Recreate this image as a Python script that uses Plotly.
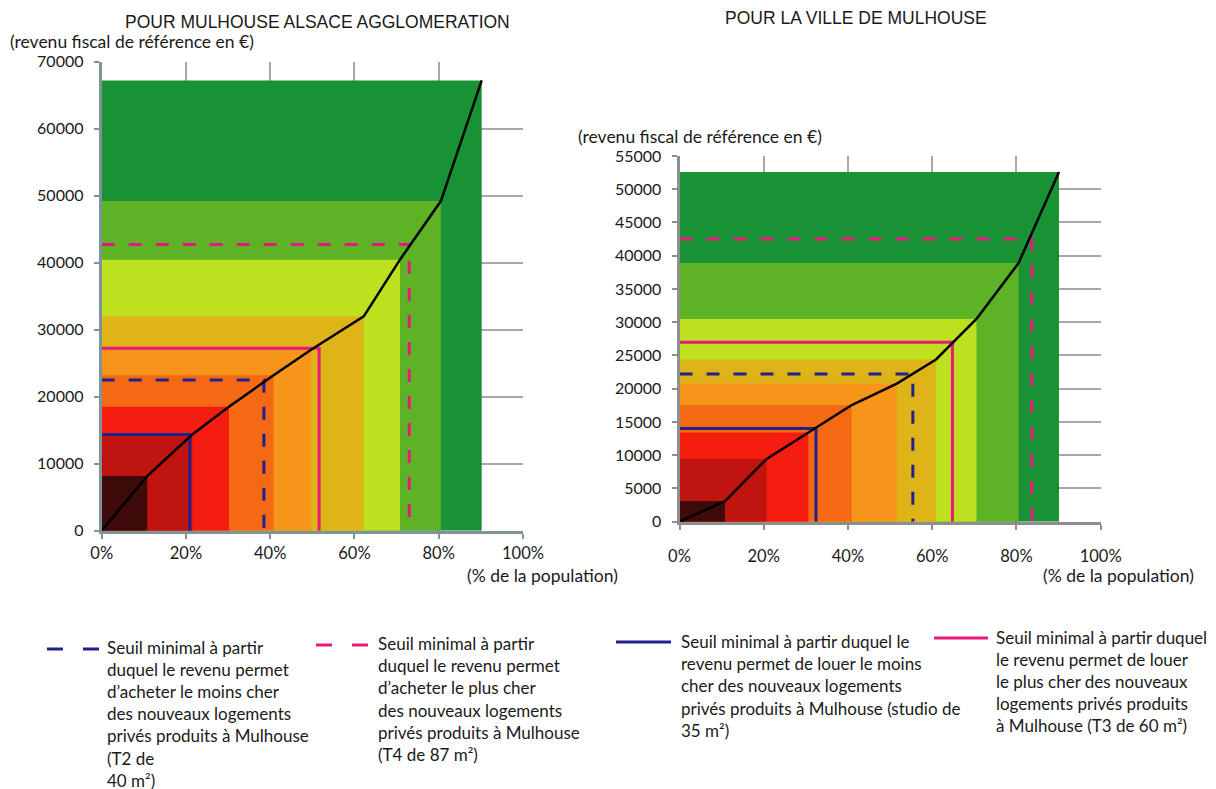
import plotly.graph_objects as go

W, H = 1216, 789
OFF = 8  # la page html décale la figure de 8 px (marge du body)

# déciles de revenu : % de la population / revenu fiscal de référence (€)
pct_agglo = [10.8, 21.5, 30.2, 40.8, 49.7, 62.2, 70.8, 80.5, 90.2]
rev_agglo = [8150, 14350, 18500, 23200, 27000, 32000, 40450, 49200, 67200]
pct_ville = [10.8, 20.7, 30.6, 40.9, 51.6, 60.9, 70.5, 80.5, 90.1]
rev_ville = [3100, 9450, 13400, 17550, 20770, 24400, 30500, 38900, 52600]

# seuils : achat min, achat max, location min, location max
seuil_pct_agglo = [38.5, 73.0, 20.9, 51.6]
seuil_rev_agglo = [22500, 42700, 14350, 27250]
seuil_pct_ville = [55.4, 83.6, 32.4, 64.8]
seuil_rev_ville = [22200, 42500, 14000, 27000]

band_colors = ["#3e0a0a", "#c0150f", "#f51c10", "#f46a14", "#f7941a",
               "#dfb418", "#bde01f", "#5db226", "#189234"]
NAVY = "#22208c"
PINK = "#e8187e"
seuil_colors = [NAVY, PINK, NAVY, PINK]
seuil_dash = ["13px,14px", "13px,14px", "solid", "solid"]

titles = ["POUR MULHOUSE ALSACE AGGLOMERATION", "POUR LA VILLE DE MULHOUSE"]

legend_texts = [
    ["Seuil minimal à partir", "duquel le revenu permet", "d’acheter le moins cher",
     "des nouveaux logements", "privés produits à Mulhouse", "(T2 de", "40 m²)"],
    ["Seuil minimal à partir", "duquel le revenu permet", "d’acheter le plus cher",
     "des nouveaux logements", "privés produits à Mulhouse", "(T4 de 87 m²)"],
    ["Seuil minimal à partir duquel le", "revenu permet de louer le moins",
     "cher des nouveaux logements", "privés produits à Mulhouse (studio de", "35 m²)"],
    ["Seuil minimal à partir duquel", "le revenu permet de louer",
     "le plus cher des nouveaux", "logements privés produits", "à Mulhouse (T3 de 60 m²)"],
]

FONT = "Lato, 'Open Sans', sans-serif"
TXT = "#1a1a1a"


def px_x(p):
    return (p - OFF) / W


def px_y(p):
    return 1 - (p - OFF) / H


fig = go.Figure()


def add_panel(pcts, revs, s_pct, s_rev, xa, ya):
    # bandes colorées imbriquées, de la plus grande à la plus petite
    for i in reversed(range(len(pcts))):
        fig.add_trace(go.Scatter(
            x=[0, pcts[i], pcts[i], 0, 0], y=[0, 0, revs[i], revs[i], 0],
            mode="lines", fill="toself", fillcolor=band_colors[i],
            line=dict(width=0), hoverinfo="skip", showlegend=False,
            xaxis=xa, yaxis=ya))
    for k in range(len(s_pct)):
        fig.add_trace(go.Scatter(
            x=[0, s_pct[k], s_pct[k]], y=[s_rev[k], s_rev[k], 0],
            mode="lines", line=dict(color=seuil_colors[k], width=3, dash=seuil_dash[k]),
            hoverinfo="skip", showlegend=False, xaxis=xa, yaxis=ya))
    fig.add_trace(go.Scatter(
        x=[0] + pcts, y=[0] + revs, mode="lines",
        line=dict(color="black", width=2.5), showlegend=False,
        xaxis=xa, yaxis=ya))


add_panel(pct_agglo, rev_agglo, seuil_pct_agglo, seuil_rev_agglo, "x", "y")
add_panel(pct_ville, rev_ville, seuil_pct_ville, seuil_rev_ville, "x2", "y2")

xcommon = dict(range=[0, 100], dtick=20, ticksuffix="%", showgrid=True,
               gridcolor="#a8a8a8", gridwidth=2, zeroline=False, showline=True,
               linewidth=3, ticks="outside", ticklen=5, tickwidth=2, automargin=False,
               tickfont=dict(family=FONT, size=16.5, color=TXT))
ycommon = dict(showgrid=True, gridcolor="#a8a8a8", gridwidth=2, zeroline=False,
               showline=True, linewidth=3, ticks="outside", ticklen=5, tickwidth=2,
               tickformat="d", automargin=False, ticklabelstandoff=7,
               tickfont=dict(family=FONT, size=16, color=TXT))

fig.update_layout(
    width=W, height=H, margin=dict(l=0, r=0, t=0, b=0, autoexpand=False),
    paper_bgcolor="white", plot_bgcolor="white", showlegend=False,
    xaxis=dict(xcommon, domain=[px_x(101.7), px_x(523)], anchor="y",
               linecolor="#7f939b", tickcolor="#7f939b", ticklabelstandoff=0),
    yaxis=dict(ycommon, domain=[px_y(530.7), px_y(61.7)], anchor="x",
               range=[0, 70000], dtick=10000, linecolor="#7f939b", tickcolor="#7f939b"),
    xaxis2=dict(xcommon, domain=[px_x(679.5), px_x(1100.7)], anchor="y2",
                linecolor="#8e8e8e", tickcolor="#8e8e8e", ticklabelstandoff=12),
    yaxis2=dict(ycommon, domain=[px_y(521.7), px_y(156)], anchor="x2",
                range=[0, 55000], dtick=5000, linecolor="#8e8e8e", tickcolor="#8e8e8e"),
)

ann = []


def label(text, x, y, xanchor="left", size=17.5, family=FONT):
    ann.append(dict(text=text, x=px_x(x), y=px_y(y), xref="paper", yref="paper",
                    xanchor=xanchor, yanchor="middle", showarrow=False,
                    font=dict(family=family, size=size, color=TXT)))


label(titles[0], 317, 22, "center", 17.5, "Liberation Sans, Arial, sans-serif")
label(titles[1], 856, 18, "center", 17.5, "Liberation Sans, Arial, sans-serif")
label("(revenu fiscal de référence en €)", 8, 42)
label("(revenu fiscal de référence en €)", 576, 136)
label("(% de la population)", 620, 575, "right")
label("(% de la population)", 1196, 575, "right")

# légende faite à la main
legend_pos = [(105, 647), (376, 643.5), (679, 641.5), (994, 637)]
legend_sample = [(47, 99, 649), (316, 368, 645), (616, 671, 642), (934, 988, 638)]
shapes = []
for b, lines in enumerate(legend_texts):
    x0, y0 = legend_pos[b]
    for j, t in enumerate(lines):
        label(t, x0, y0 + j * 22.2, size=17)
    sx0, sx1, sy = legend_sample[b]
    if seuil_dash[b] == "solid":
        segs = [(sx0, sx1)]
    else:
        segs = [(sx0, sx0 + 16), (sx1 - 16, sx1)]
    for a, c in segs:
        shapes.append(dict(type="line", xref="paper", yref="paper",
                           x0=px_x(a), x1=px_x(c), y0=px_y(sy), y1=px_y(sy),
                           line=dict(color=seuil_colors[b], width=3)))

fig.update_layout(annotations=ann, shapes=shapes)

fig.write_html("out.html")
